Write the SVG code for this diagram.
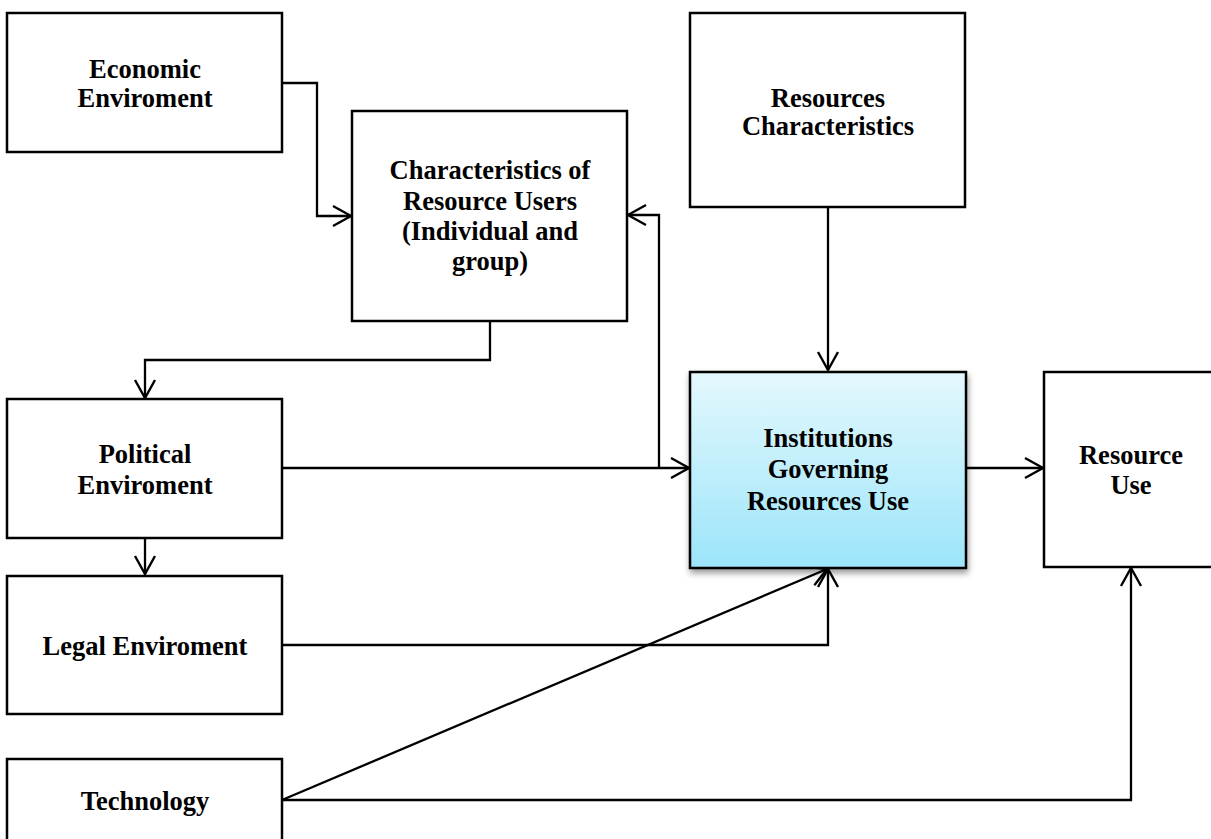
<svg xmlns="http://www.w3.org/2000/svg" width="1211" height="839" viewBox="0 0 1211 839">
<style>
.box{fill:#fff;stroke:#000;stroke-width:2.5}
.t{font-family:"Liberation Serif","Times New Roman",serif;font-weight:bold;font-size:26.5px;fill:#000;text-anchor:middle}
.c{fill:none;stroke:#000;stroke-width:2.3;marker-end:url(#arr)}
</style>
<defs>
<marker id="arr" markerUnits="userSpaceOnUse" markerWidth="24" markerHeight="24" viewBox="-20 -12 24 24" refX="0" refY="0" orient="auto" overflow="visible">
<path d="M-18,-10 L0,0 L-18,10" fill="none" stroke="#000" stroke-width="2.4"/>
</marker>
<linearGradient id="g" x1="0" y1="0" x2="0" y2="1">
<stop offset="0" stop-color="#e4f8fd"/>
<stop offset="1" stop-color="#9ce5fa"/>
</linearGradient>
<filter id="sh" x="-10%" y="-10%" width="125%" height="130%">
<feDropShadow dx="1" dy="4" stdDeviation="3" flood-color="#000" flood-opacity="0.4"/>
</filter>
</defs>
<g id="connectors">
<path class="c" d="M282,83 H317 V216 H351"/>
<path class="c" d="M490,321 V360 H145 V398"/>
<path class="c" d="M145,538 V574"/>
<path class="c" d="M282,468 H689"/>
<path class="c" d="M659,468 V215 H628"/>
<path class="c" d="M828,207 V370"/>
<path class="c" d="M966,468 H1043"/>
<path class="c" d="M282,645 H828 V569"/>
<path class="c" d="M282,800 L827,569"/>
<path class="c" d="M282,800 H1131 V568"/>
</g>
<g id="economic"><rect class="box" x="7" y="13" width="275" height="139"/>
<text class="t" x="145" y="78">Economic</text><text class="t" x="145" y="107">Enviroment</text></g>
<g id="characteristics"><rect class="box" x="352" y="111" width="275" height="210"/>
<text class="t" x="490" y="179">Characteristics of</text><text class="t" x="490" y="210">Resource Users</text><text class="t" x="490" y="240">(Individual and</text><text class="t" x="490" y="270">group)</text></g>
<g id="resources"><rect class="box" x="690" y="13" width="275" height="194"/>
<text class="t" x="828" y="107">Resources</text><text class="t" x="828" y="135">Characteristics</text></g>
<g id="political"><rect class="box" x="7" y="399" width="275" height="139"/>
<text class="t" x="145" y="463">Political</text><text class="t" x="145" y="494">Enviroment</text></g>
<g id="legal"><rect class="box" x="7" y="576" width="275" height="138"/>
<text class="t" x="145" y="655">Legal Enviroment</text></g>
<g id="technology"><rect class="box" x="7" y="759" width="275" height="100"/>
<text class="t" x="145" y="810">Technology</text></g>
<g id="institutions"><rect x="690" y="372" width="276" height="196" fill="url(#g)" stroke="#000" stroke-width="2.5" filter="url(#sh)"/>
<text class="t" x="828" y="447">Institutions</text><text class="t" x="828" y="478">Governing</text><text class="t" x="828" y="510">Resources Use</text></g>
<g id="resourceuse"><rect class="box" x="1044" y="372" width="190" height="195"/>
<text class="t" x="1131" y="464">Resource</text><text class="t" x="1131" y="494">Use</text></g>
</svg>
